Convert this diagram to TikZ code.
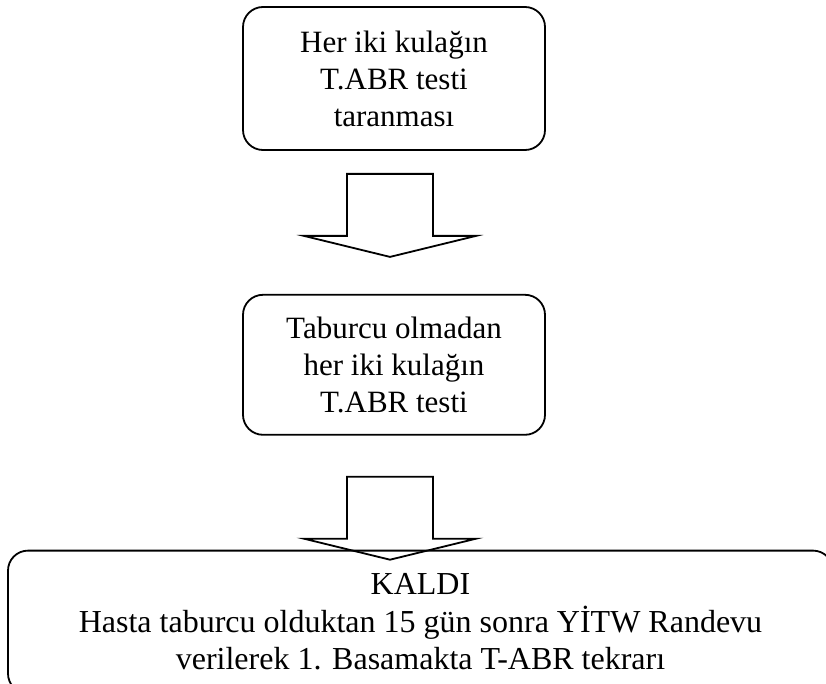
\documentclass[tikz,border=0pt]{standalone}
\usepackage{fontspec}
\setmainfont{Liberation Serif}
\usetikzlibrary{positioning}

\newcommand{\blockarrow}[1]{%
  \draw[blockarr, shift={(#1)}] (-43,0) -- (43,0) -- (43,62) -- (86,62) -- (0,83) -- (-86,62) -- (-43,62) -- cycle;}

\begin{document}
\begin{tikzpicture}[
      x=1pt, y=-1pt,
      node distance=143pt,
      stepbox/.style={draw, line width=1.8pt, rounded corners=20pt, align=center, inner sep=0pt, font=\fontsize{31}{37}\selectfont, minimum width=302pt, minimum height=143pt},
      bigbox/.style={stepbox, minimum width=825pt, font=\fontsize{32}{37.5}\selectfont},
      blockarr/.style={draw, line width=1.8pt, line join=miter}
    ]
    \clip (0,0) rectangle (826,684);
    \node[stepbox] (tarama) at (394,78.5) {Her iki kulağın\\T.ABR testi\\taranması};
    \node[stepbox, below=of tarama, minimum height=140pt] (taburcu) {Taburcu olmadan\\her iki kulağın\\T.ABR testi};
    \node[bigbox, below=114pt of taburcu, xshift=26.5pt] (kaldi) {KALDI\\Hasta taburcu olduktan 15 gün sonra YİTW Randevu\\verilerek 1. Basamakta T-ABR tekrarı};
    \coordinate[below=23pt of tarama.south, xshift=-4pt] (pil1);
    \coordinate[below=41pt of taburcu.south, xshift=-4pt] (pil2);
    \blockarrow{pil1} \blockarrow{pil2}
  \end{tikzpicture}
\end{document}
